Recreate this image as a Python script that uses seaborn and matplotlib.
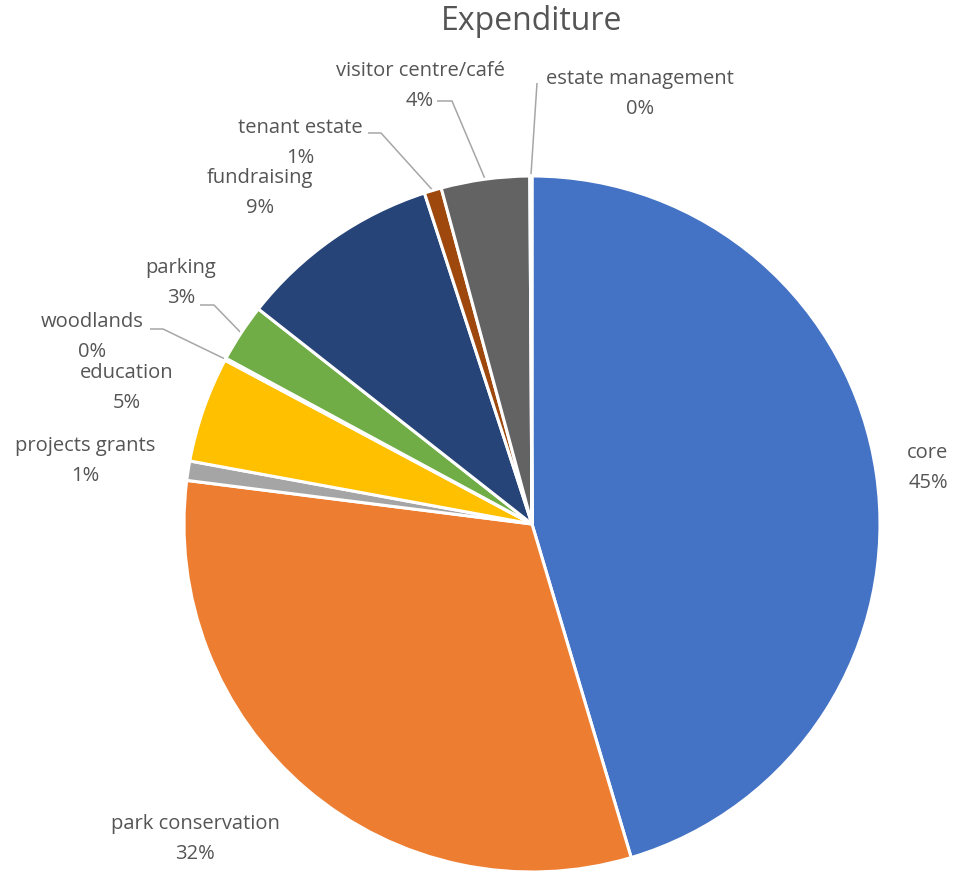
import numpy as np
import matplotlib
matplotlib.use("Agg")
import matplotlib.pyplot as plt
import seaborn as sns

# ---- data ----
categories = ["core", "park conservation", "projects grants", "education", "woodlands",
              "parking", "fundraising", "tenant estate", "visitor centre/café", "estate management"]
values = [45.4, 31.6, 0.9, 4.9, 0.1, 2.7, 9.4, 0.8, 4.1, 0.1]
colors = ["#4472C4", "#ED7D31", "#A5A5A5", "#FFC000", "#5B9BD5",
          "#70AD47", "#264478", "#9E480E", "#636363", "#997300"]
title = "Expenditure"

sns.set_theme(style="white")
plt.rcParams["font.family"] = ["Open Sans", "DejaVu Sans"]

W, H = 960, 872
fig = plt.figure(figsize=(W / 100, H / 100), dpi=100)
ax = fig.add_axes([0, 0, 1, 1])

def Y(py):
    return H - py

cx, cy, R = 532, Y(524), 348
wedges, _ = ax.pie(values, colors=colors, startangle=90, counterclock=False,
                   center=(cx, cy), radius=R,
                   wedgeprops=dict(edgecolor="white", linewidth=2.2))
ax.set_xlim(0, W)
ax.set_ylim(0, H)
ax.set_aspect("equal")
ax.axis("off")

txt_color = "#555555"
line_color = "#A6A6A6"
fs = 14.5

# label block centres (pixel coords) -- layout only
label_pos = {
    "core": (928, 468),
    "park conservation": (195, 839),
    "projects grants": (85, 461),
    "education": (127, 388),
    "woodlands": (92, 337),
    "parking": (181, 283),
    "fundraising": (260, 193),
    "tenant estate": (300, 143),
    "visitor centre/café": (420, 86),
    "estate management": (640, 94),
}
# leader lines: (start at text, elbow) in pixel coords -- layout only
leaders = {
    "woodlands": ((150, 329), (163, 329)),
    "parking": ((200, 305), (214, 305)),
    "tenant estate": ((368, 133), (381, 133)),
    "visitor centre/café": ((437, 101), (452, 101)),
    "estate management": ((537, 83), (537, 83)),
}

total = sum(values)
for w, name, v in zip(wedges, categories, values):
    px, py = label_pos[name]
    ax.text(px, Y(py), f"{name}\n{v / total * 100:.0f}%", ha="center", va="center",
            fontsize=fs, color=txt_color, linespacing=1.65)
    if name in leaders:
        mid = np.deg2rad((w.theta1 + w.theta2) / 2)
        ex, ey = cx + R * np.cos(mid), cy + R * np.sin(mid)
        (sx, sy), (bx, by) = leaders[name]
        ax.plot([sx, bx, ex], [Y(sy), Y(by), ey], color=line_color, lw=1.1,
                solid_capstyle="butt", zorder=0.5)

ax.text(532, Y(22), title, ha="center", va="center", fontsize=23, color=txt_color)

fig.savefig("out.png", dpi=100)
